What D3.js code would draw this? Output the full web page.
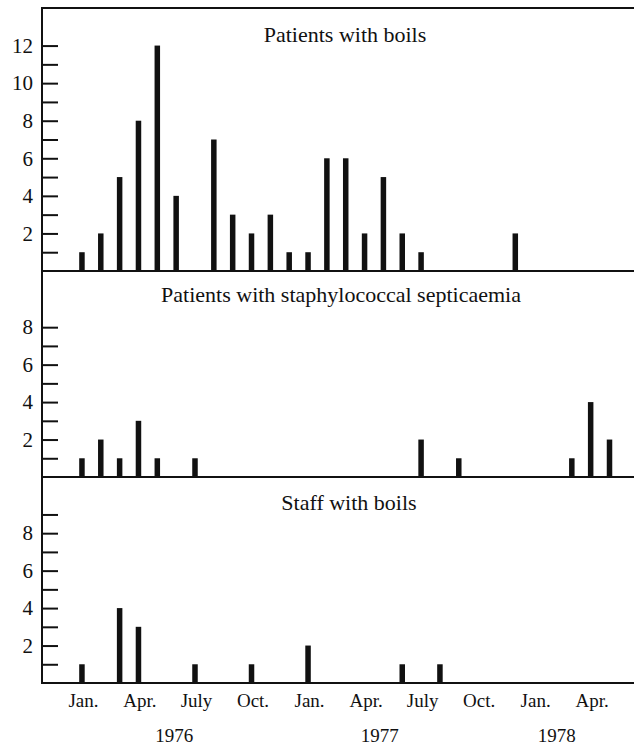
<!DOCTYPE html>
<html>
<head>
<meta charset="utf-8">
<script src="https://cdn.jsdelivr.net/npm/d3@7/dist/d3.min.js"></script>
<style>
  html, body { margin: 0; padding: 0; background: #fff; }
  svg text { font-family: "Liberation Serif", "Times New Roman", serif; fill: #111; }
</style>
</head>
<body>
<svg id="chart" width="634" height="748"></svg>
<script>
// ---- data (month index 0 = Jan. 1976 ... 28 = May 1978) ----
const months = d3.range(0, 29);
const patientsBoils = [1,2,5,8,12,4,0,7,3,2,3,1, 1,6,6,2,5,2,1,0,0,0,0,2, 0,0,0,0,0];
const patientsSepticaemia = [1,2,1,3,1,0,1,0,0,0,0,0, 0,0,0,0,0,0,2,0,1,0,0,0, 0,0,1,4,2];
const staffBoils = [1,0,4,3,0,0,1,0,0,1,0,0, 2,0,0,0,0,1,0,1,0,0,0,0, 0,0,0,0,0];
const panelTitles = ["Patients with boils", "Patients with staphylococcal septicaemia", "Staff with boils"];
const monthTickValues = [0,3,6,9,12,15,18,21,24,27];
const monthTickLabels = ["Jan.","Apr.","July","Oct.","Jan.","Apr.","July","Oct.","Jan.","Apr."];
const yearLabels = ["1976","1977","1978"];
const yearAnchors = [4.9, 15.8, 25.2];
const panelMax = [14, 11, 11];
const panelMinorMax = [12, 8, 9];
const panelLabelTicks = [[2,4,6,8,10,12],[2,4,6,8],[2,4,6,8]];

// ---- layout ----
const svg = d3.select("#chart");
const left = 42, right = 634;
const baselines = [271, 477, 683];
const tops = [8, 271, 477];

const x = d3.scaleLinear().domain([-2.12, 29.3]).range([left, right]);

const series = [patientsBoils, patientsSepticaemia, staffBoils];
const titleY = [42, 302, 510];
const titleX = [345, 341, 349];

series.forEach((vals, i) => {
  const y = d3.scaleLinear().domain([0, panelMax[i]]).range([baselines[i], tops[i]]);
  const g = svg.append("g");

  // y axis with inward ticks
  const ax = d3.axisLeft(y)
    .tickValues(d3.range(1, panelMinorMax[i] + 1))
    .tickSize(-16)
    .tickPadding(9)
    .tickFormat(d => panelLabelTicks[i].includes(d) ? d : "");
  const axg = g.append("g").attr("transform", `translate(${left},0)`).call(ax);
  axg.select(".domain").remove();
  axg.selectAll(".tick line").attr("stroke", "#111").attr("stroke-width", 2);
  axg.selectAll(".tick text").attr("font-size", 21).attr("fill", "#111");

  // bars
  g.selectAll("rect.bar")
    .data(months.filter(m => vals[m] > 0))
    .join("rect")
    .attr("class", "bar")
    .attr("x", m => x(m) - 2.75)
    .attr("width", 5.5)
    .attr("y", m => y(vals[m]))
    .attr("height", m => y(0) - y(vals[m]))
    .attr("fill", "#111");

  // baseline
  g.append("line")
    .attr("x1", left).attr("x2", right)
    .attr("y1", baselines[i]).attr("y2", baselines[i])
    .attr("stroke", "#111").attr("stroke-width", 2);

  // title
  g.append("text")
    .attr("x", titleX[i]).attr("y", titleY[i])
    .attr("text-anchor", "middle")
    .attr("font-size", 22)
    .text(panelTitles[i]);
});

// top frame line and left axis line
svg.append("line").attr("x1", left).attr("x2", right).attr("y1", 8).attr("y2", 8)
  .attr("stroke", "#111").attr("stroke-width", 2);
svg.append("line").attr("x1", left).attr("x2", left).attr("y1", 7).attr("y2", 684)
  .attr("stroke", "#111").attr("stroke-width", 2);

// x axis labels
const xAxis = d3.axisBottom(x)
  .tickValues(monthTickValues)
  .tickSize(0)
  .tickPadding(11)
  .tickFormat((d, i) => monthTickLabels[i]);
const xg = svg.append("g").attr("transform", `translate(1,${baselines[2]})`).call(xAxis);
xg.select(".domain").remove();
xg.selectAll(".tick text").attr("font-size", 19).attr("fill", "#111");

svg.append("g").selectAll("text.year")
  .data(yearLabels)
  .join("text")
  .attr("class", "year")
  .attr("x", (d, i) => x(yearAnchors[i]))
  .attr("y", 742)
  .attr("text-anchor", "middle")
  .attr("font-size", 19)
  .text(d => d);
</script>
</body>
</html>
